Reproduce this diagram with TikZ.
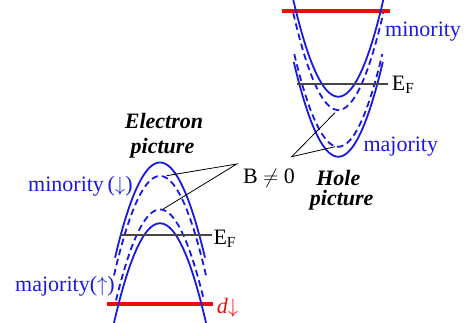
\documentclass[tikz,border=0pt]{standalone}
\usepackage{fontspec}
\setmainfont{Liberation Serif}
\definecolor{bandblue}{RGB}{25,25,225}
\definecolor{levelred}{RGB}{240,10,10}
\definecolor{fermigray}{RGB}{70,70,70}
\begin{document}
\begin{tikzpicture}[x=1pt,y=-1pt,
  band/.style={line width=1.8pt, color=bandblue},
  banddash/.style={band, dash pattern=on 6.5pt off 4pt},
  fermi/.style={line width=1.1pt, color=fermigray},
  pointer/.style={line width=0.8pt, black},
  level/.style={line width=4pt, color=levelred},
  lbl/.style={inner sep=0pt, font=\fontsize{22}{26}\selectfont},
  bluelbl/.style={lbl, text=bandblue},
  titlelbl/.style={lbl, font=\fontsize{22}{26}\selectfont\bfseries\itshape}]
\useasboundingbox (0,0) rectangle (466,322);
\begin{scope}
\clip (0,0) rectangle (466,322);
% red d levels
\coordinate (dL) at (106.7,304.3);
\coordinate (dR) at (213.3,304.3);
\draw[level] (dL) -- (dR);
\coordinate (hL) at (281.7,11);
\coordinate (hR) at (390,11);
\draw[level] (hL) -- (hR);
% electron picture bands
\draw[band] plot[domain=-45:45, samples=61] ({160+\x},{162.5+0.047*\x*\x});
\draw[banddash] plot[domain=-46:46, samples=61] ({160+\x},{176+0.047*\x*\x});
\draw[banddash] plot[domain=-44:44, samples=61] ({160+\x},{209.5+0.047*\x*\x});
\draw[band] plot[domain=-50:50, samples=61] ({160+\x},{223.3+0.047*\x*\x});
% hole picture bands
\draw[band] plot[domain=-50:50, samples=61] ({338.3+\x},{96.7-0.0478*\x*\x});
\draw[banddash] plot[domain=-45:45, samples=61] ({338.3+\x},{110-0.0478*\x*\x});
\draw[banddash] plot[domain=-44:44, samples=61] ({338.3+\x},{146.7-0.0478*\x*\x});
\draw[band] plot[domain=-44.5:44.5, samples=61] ({338.3+\x},{156.7-0.0478*\x*\x});
\end{scope}
% Fermi levels
\coordinate (efL) at (120,235);
\coordinate (efR) at (211.7,235);
\draw[fermi] (efL) -- (efR);
\node[lbl, anchor=base west] (ef1) at (213.3,244.5) {E\textsubscript{F}};
\coordinate (hefL) at (296.7,84);
\coordinate (hefR) at (388.3,84);
\draw[fermi] (hefL) -- (hefR);
\node[lbl, anchor=base west] (ef2) at (391.7,90) {E\textsubscript{F}};
% pointers
\coordinate (pe) at (236.7,164);
\coordinate (pe1) at (166.7,175.7);
\coordinate (pe2) at (163.3,209);
\draw[pointer] (pe1) -- (pe) -- (pe2);
\coordinate (ph) at (291.7,156.7);
\coordinate (ph1) at (335,112.7);
\coordinate (ph2) at (335,146.7);
\draw[pointer] (ph1) -- (ph) -- (ph2);
\node[lbl, anchor=base west] (bfield) at (243,183) {B $\neq$ 0};
% labels
\node[bluelbl, anchor=base west] (emin) at (28,191.7) {minority\,($\downarrow$)};
\node[bluelbl, anchor=base west] (emaj) at (15,291.7) {majority($\uparrow$)};
\node[bluelbl, anchor=base west] (hmin) at (385,36.7) {minority};
\node[bluelbl, anchor=base west] (hmaj) at (363.3,151.7) {majority};
\node[lbl, text=levelred, anchor=base west] (dlab) at (216.7,313) {\itshape d$\downarrow$};
\node[titlelbl, anchor=base] (et1) at (164,128) {Electron};
\node[titlelbl, anchor=base] (et2) at (162.5,153) {picture};
\node[titlelbl, anchor=base] (ht1) at (338.3,185) {Hole};
\node[titlelbl, anchor=base] (ht2) at (341.7,205) {picture};
\end{tikzpicture}
\end{document}
